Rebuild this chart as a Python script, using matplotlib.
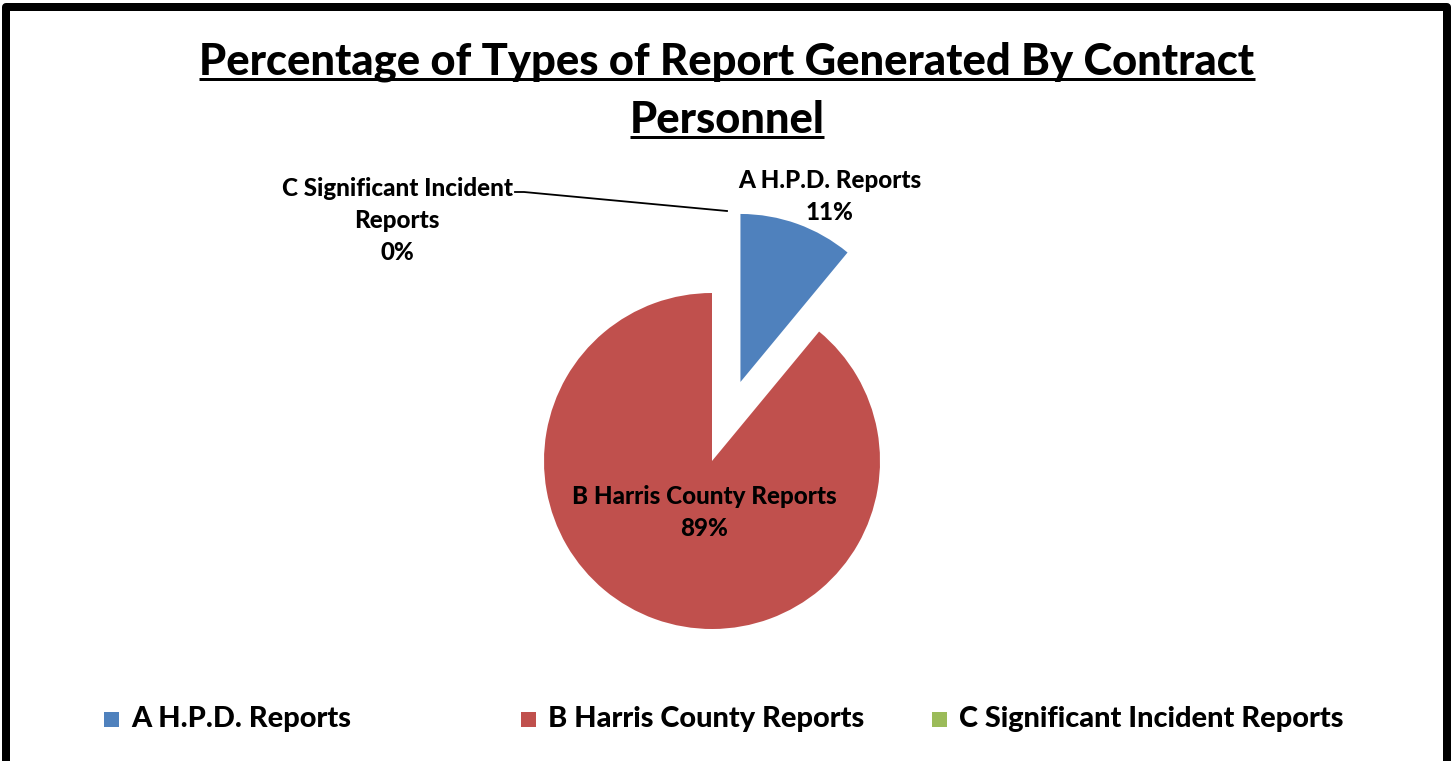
import matplotlib
matplotlib.use("Agg")
import matplotlib.pyplot as plt
from matplotlib.patches import Rectangle
from matplotlib.lines import Line2D

# ---- data ----
categories = ["A H.P.D. Reports", "B Harris County Reports", "C Significant Incident Reports"]
values = [11, 89, 0]
pct_labels = ["11%", "89%", "0%"]
colors = ["#4F81BD", "#C0504D", "#9BBB59"]
title_lines = ["Percentage of Types of Report Generated By Contract", "Personnel"]

W, H = 1451, 761
FONT = "Lato"
WEIGHT = 900

fig = plt.figure(figsize=(W / 100, H / 100), dpi=100)
ax = fig.add_axes([0, 0, 1, 1])

def Y(y):
    return H - y

radius = 168
ax.pie(values, colors=colors, startangle=90, counterclock=False,
       center=(712, Y(461)), radius=radius,
       explode=[0.5 * radius, 0, 0],
       wedgeprops=dict(linewidth=0))
ax.set_xlim(0, W)
ax.set_ylim(0, H)
ax.set_aspect("equal")
ax.axis("off")

fig.canvas.draw()
renderer = fig.canvas.get_renderer()

def fit(t, target):
    for _ in range(4):
        w = t.get_window_extent(renderer).width
        t.set_fontsize(t.get_fontsize() * target / w)
    return t

# ---- title ----
t1 = ax.text(727, Y(75), title_lines[0], ha="center", va="baseline",
             fontfamily=FONT, fontweight=WEIGHT, fontsize=30)
fit(t1, 1057)
t2 = ax.text(727, Y(133), title_lines[1], ha="center", va="baseline",
             fontfamily=FONT, fontweight=WEIGHT, fontsize=t1.get_fontsize())
fig.canvas.draw()
for t, uy in ((t1, 79), (t2, 137)):
    bb = t.get_window_extent(renderer)
    ax.add_line(Line2D([bb.x0, bb.x1], [Y(uy), Y(uy)], color="black", lw=3 * 0.72,
                       solid_capstyle="butt"))

# ---- data labels ----
lab_kw = dict(ha="center", va="baseline", fontfamily=FONT, fontweight=WEIGHT, fontsize=15)
ta = ax.text(830, Y(188), categories[0], **lab_kw)
fit(ta, 183)
lab_kw["fontsize"] = ta.get_fontsize()
ax.text(830, Y(220), pct_labels[0], **lab_kw)

ax.text(704, Y(504), categories[1], **lab_kw)
ax.text(704, Y(536), pct_labels[1], **lab_kw)

c_words = categories[2].split(" ")
ax.text(397, Y(196), " ".join(c_words[:3]), **lab_kw)
ax.text(397, Y(228), c_words[3], **lab_kw)
ax.text(397, Y(260), pct_labels[2], **lab_kw)

# leader line for the 0% slice
ax.add_line(Line2D([515, 524, 727], [Y(192), Y(192), Y(211)], color="black", lw=1.3))

# ---- legend ----
leg_x = [104, 521, 932]
leg_kw = dict(ha="left", va="baseline", fontfamily=FONT, fontweight=WEIGHT, fontsize=18)
leg_texts = []
for i, (lab, col) in enumerate(zip(categories, colors)):
    ax.add_patch(Rectangle((leg_x[i], Y(727)), 15, 15, facecolor=col, edgecolor="none"))
    tt = ax.text(leg_x[i] + 27, Y(727), lab, **leg_kw)
    leg_texts.append(tt)
fit(leg_texts[0], 220)
for tt in leg_texts[1:]:
    tt.set_fontsize(leg_texts[0].get_fontsize())

# ---- outer frame ----
ax.add_patch(Rectangle((6, -40), 1441, Y(6.5) + 40, fill=False, edgecolor="black",
                       linewidth=8 * 0.72, joinstyle="round", clip_on=False))

fig.savefig("out.png", dpi=100)
